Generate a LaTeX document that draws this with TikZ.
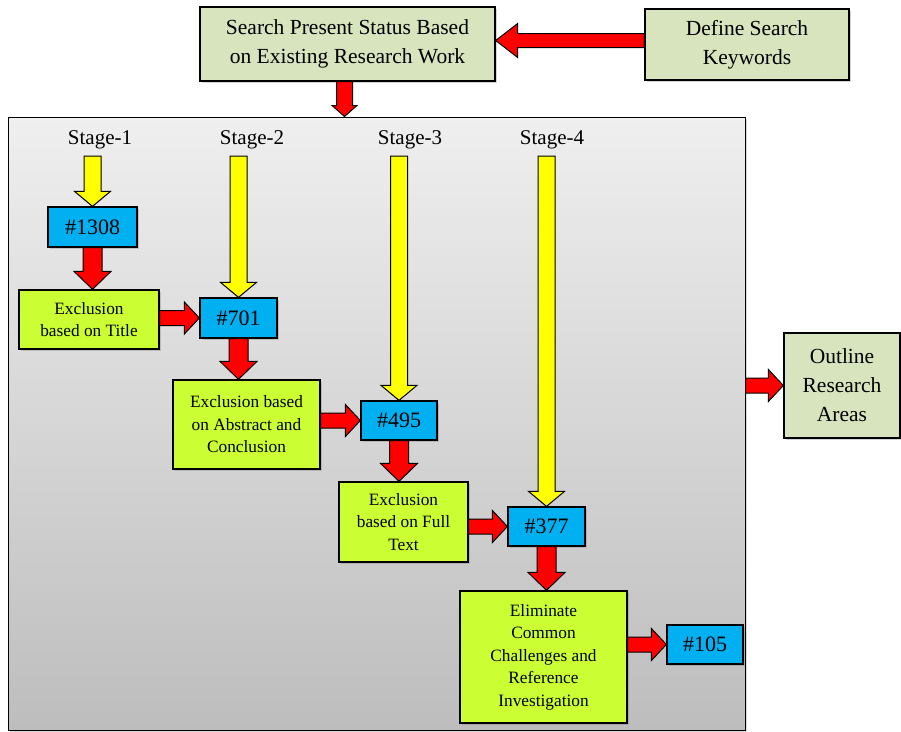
\documentclass[tikz,border=0pt]{standalone}
\usepackage{fontspec}
\setmainfont{Liberation Serif}
\usetikzlibrary{calc,shadows}
\definecolor{boxgreen}{HTML}{D7E4BD}
\definecolor{limeg}{HTML}{CCFF33}
\definecolor{cyanb}{HTML}{00B0F0}
\definecolor{redar}{HTML}{FF0000}
\definecolor{yelar}{HTML}{FFFF00}
\definecolor{bgtop}{HTML}{EFEFEF}
\definecolor{bgbot}{HTML}{BDBDBD}
\tikzset{
 base/.style={draw=black, line width=1.3pt, inner sep=0pt, align=center,
   drop shadow={shadow xshift=2pt, shadow yshift=-2pt, opacity=0.35}},
 olive/.style={base, fill=boxgreen, font=\fontsize{21.5}{29}\selectfont},
 lime/.style={base, fill=limeg, font=\fontsize{17.3}{22.5}\selectfont},
 num/.style={base, fill=cyanb, font=\fontsize{22}{25}\selectfont},
 stagelabel/.style={font=\fontsize{21}{24}\selectfont, inner sep=0pt, outer ysep=7pt},
 redarrow/.style={draw=black, line width=1pt, fill=redar, line join=miter},
 yelarrow/.style={draw=black, line width=1pt, fill=yelar, line join=miter},
}
\newcommand\blkarrow[6]{%
  \coordinate (bah) at ($(#2)!#6!(#1)$);
  \draw[#3] ($(#1)!#4!90:(#2)$) -- ($(bah)!#4!90:(#2)$) -- ($(bah)!#5!90:(#2)$) -- (#2)
     -- ($(bah)!#5!-90:(#2)$) -- ($(bah)!#4!-90:(#2)$) -- ($(#1)!#4!-90:(#2)$) -- cycle;
}
\begin{document}
\begin{tikzpicture}[x=1pt,y=-1pt]
\useasboundingbox (0,0) rectangle (901,731);
% big container
\node[draw=black, line width=1pt, top color=bgtop, bottom color=bgbot, inner sep=0pt,
  minimum width=737pt, minimum height=613pt,
  drop shadow={shadow xshift=2pt, shadow yshift=-2pt, opacity=0.3}] (big) at (376.5,423.5) {};
% top boxes
\node[olive, minimum width=295pt, minimum height=74pt] (search) at (347.5,44) {Search Present Status Based\\on Existing Research Work};
\node[olive, minimum width=204pt, minimum height=71pt] (define) at (747,44.5) {Define Search\\Keywords};
\node[olive, minimum width=116pt, minimum height=105pt] (outline) at (842,385.5) {Outline\\Research\\Areas};
% stage labels
\node[stagelabel] (s1) at (100,140) {Stage-1};
\node[stagelabel] (s2) at (252,140) {Stage-2};
\node[stagelabel] (s3) at (410,140) {Stage-3};
\node[stagelabel] (s4) at (552,140) {Stage-4};
% count boxes
\node[num, minimum width=89pt, minimum height=40pt] (n1308) at (92.5,227) {\#1308};
\node[num, minimum width=77pt, minimum height=40pt] (n701) at (238.5,318) {\#701};
\node[num, minimum width=76pt, minimum height=39pt] (n495) at (399,420.5) {\#495};
\node[num, minimum width=77pt, minimum height=39pt] (n377) at (546.5,526.5) {\#377};
\node[num, minimum width=76pt, minimum height=39pt] (n105) at (705,644.5) {\#105};
% exclusion boxes
\node[lime, minimum width=140pt, minimum height=59pt] (ex1) at (89,319.5) {Exclusion\\based on Title};
\node[lime, minimum width=147pt, minimum height=89pt] (ex2) at (246.5,424.5) {Exclusion based\\on Abstract and\\Conclusion};
\node[lime, minimum width=129pt, minimum height=80pt] (ex3) at (403.5,522) {Exclusion\\based on Full\\Text};
\node[lime, minimum width=167pt, minimum height=132pt] (ex4) at (543.5,657) {Eliminate\\Common\\Challenges and\\Reference\\Investigation};
% helper coordinates
\coordinate (da) at ($(define.west)+(0,-4)$);
\coordinate (sa) at (search.east |- da);
\coordinate (ss) at ($(search.south)+(-3,0)$);
\coordinate (bt) at (ss |- big.north);
\coordinate (y1) at (s1.south -| n1308.north);
\coordinate (y2) at (s2.south -| n701.north);
\coordinate (y3) at (s3.south -| n495.north);
\coordinate (y4) at (s4.south -| n377.north);
\coordinate (d1) at (n1308.south |- ex1.north);
\coordinate (d2) at (n701.south |- ex2.north);
\coordinate (d3) at (n495.south |- ex3.north);
\coordinate (d4) at (n377.south |- ex4.north);
\coordinate (r1) at (ex1.east |- n701.west);
\coordinate (r2) at (ex2.east |- n495.west);
\coordinate (r3) at (ex3.east |- n377.west);
\coordinate (r4) at (ex4.east |- n105.west);
\coordinate (ro) at (big.east |- outline.west);
% arrows
\blkarrow{da}{sa}{redarrow}{7pt}{17pt}{22pt}
\blkarrow{ss}{bt}{redarrow}{8pt}{12.5pt}{11pt}
\blkarrow{y1}{n1308.north}{yelarrow}{8.5pt}{18pt}{15pt}
\blkarrow{y2}{n701.north}{yelarrow}{8.5pt}{18pt}{15pt}
\blkarrow{y3}{n495.north}{yelarrow}{8.5pt}{18pt}{15pt}
\blkarrow{y4}{n377.north}{yelarrow}{8.5pt}{18pt}{15pt}
\blkarrow{n1308.south}{d1}{redarrow}{9.5pt}{18.5pt}{18pt}
\blkarrow{n701.south}{d2}{redarrow}{9.5pt}{18.5pt}{18pt}
\blkarrow{n495.south}{d3}{redarrow}{9.5pt}{18.5pt}{18pt}
\blkarrow{n377.south}{d4}{redarrow}{9.5pt}{18.5pt}{18pt}
\blkarrow{r1}{n701.west}{redarrow}{7.5pt}{16pt}{15pt}
\blkarrow{r2}{n495.west}{redarrow}{7.5pt}{16pt}{15pt}
\blkarrow{r3}{n377.west}{redarrow}{7.5pt}{16pt}{15pt}
\blkarrow{r4}{n105.west}{redarrow}{7.5pt}{16pt}{15pt}
\blkarrow{ro}{outline.west}{redarrow}{7.5pt}{16pt}{15pt}
\end{tikzpicture}
\end{document}
